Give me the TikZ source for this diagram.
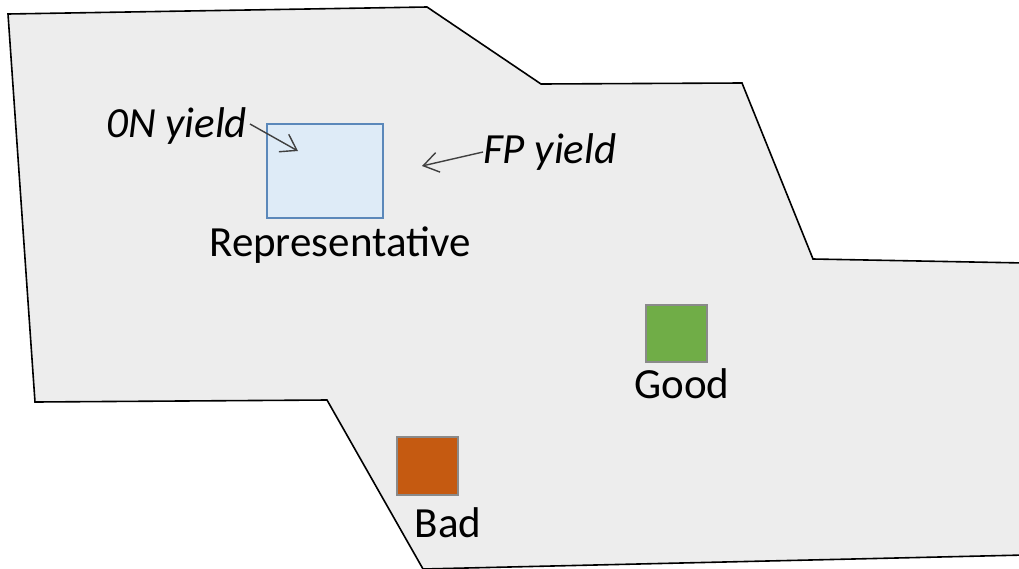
\documentclass[tikz,border=0pt]{standalone}
\usepackage{fontspec}
\setmainfont{Carlito}
\usetikzlibrary{arrows.meta}
\definecolor{regionfill}{HTML}{EDEDED}
\definecolor{repfill}{HTML}{DEEBF7}
\definecolor{repdraw}{HTML}{5B88BA}
\definecolor{goodfill}{HTML}{70AD47}
\definecolor{badfill}{HTML}{C55A11}
\definecolor{boxedge}{HTML}{8A8A8A}
\definecolor{arrowcol}{HTML}{404040}
\tikzset{
  region/.style={fill=regionfill, draw=black, line width=1.6pt, line join=miter},
  sample/.style={draw=boxedge, line width=1.5pt},
  lbl/.style={inner sep=0pt, font=\fontsize{43}{48}\selectfont},
  ilbl/.style={inner sep=0pt, font=\fontsize{43}{48}\selectfont\itshape},
  pointer/.style={draw=arrowcol, line width=1.4pt, -{Straight Barb[length=15pt,width=20pt,line width=1.4pt]}}
}
\begin{document}
\begin{tikzpicture}[x=1pt,y=-1pt]
\useasboundingbox (0,0) rectangle (1019,568);
% region
\draw[region] (8,14) -- (427,7) -- (541,84) -- (742,83) -- (813,259) -- (1025,263)
  -- (1025,555) -- (423,569) -- (327,400) -- (35,402) -- cycle;
% representative
\draw[fill=repfill, draw=repdraw, line width=1.5pt] (267,124) rectangle (383,218);
\node[lbl, anchor=base] (rep) at (340,256) {Representative};
% good
\draw[sample, fill=goodfill] (646,305) rectangle (707,362);
\node[lbl, anchor=base] (good) at (682,398) {Good};
% bad
\draw[sample, fill=badfill] (397,437) rectangle (458,495);
\node[lbl, anchor=base] (bad) at (448,537) {Bad};
% labels
\node[ilbl, anchor=base west] (on) at (106,137) {0N yield};
\node[ilbl, anchor=base west] (fp) at (483,163) {FP yield};
\coordinate (onstart) at (250,124);
\coordinate (onend) at (298,151);
\coordinate (fpstart) at (483,152);
\coordinate (fpend) at (422,166);
\draw[pointer] (onstart) -- (onend);
\draw[pointer] (fpstart) -- (fpend);
\end{tikzpicture}
\end{document}
